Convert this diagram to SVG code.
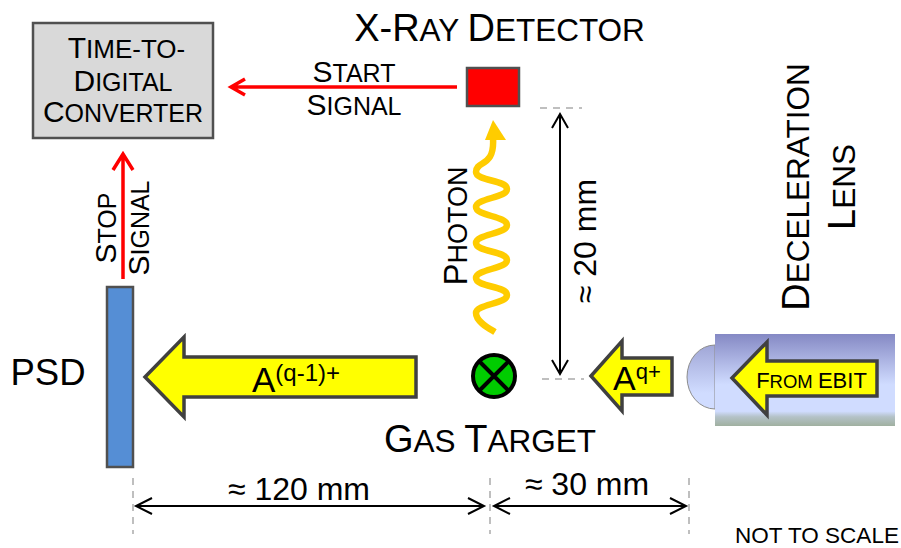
<svg xmlns="http://www.w3.org/2000/svg" width="901" height="548" viewBox="0 0 901 548">
<style>
text{font-family:"Liberation Sans",Arial,sans-serif;fill:#000}
.box{stroke:#505050;stroke-width:2.5}
.big{fill:#ffff00;stroke:#404040;stroke-width:3.5;stroke-linejoin:miter}
.dash{stroke:#aaa;stroke-width:1.5;stroke-dasharray:7 6;fill:none}
.dim{stroke:#000;stroke-width:2;fill:none}
.sig{stroke:#ff0000;stroke-width:3.5;fill:none}
</style>
<defs>
<linearGradient id="lens" x1="0" y1="0" x2="0" y2="1">
<stop offset="0" stop-color="#8589c4"/><stop offset="0.55" stop-color="#d0dcff"/><stop offset="0.84" stop-color="#d0dcff"/><stop offset="0.9" stop-color="#b4c2c8"/><stop offset="1" stop-color="#a0b0a0"/>
</linearGradient>
<linearGradient id="cap" x1="0" y1="0" x2="0" y2="1">
<stop offset="0" stop-color="#a0a6d6"/><stop offset="0.75" stop-color="#d0dcff"/><stop offset="1" stop-color="#d0dcff"/>
</linearGradient>
</defs>

<g id="connectors">
<path class="sig" d="M457 87H231M245 79L231 87L245 95"/>
<path class="sig" d="M123 279V154M113 170L123 154L133 170"/>
<path d="M495 332C490 329 476 322 476 313C476 304 507 304 507 295C507 286 476 287 476 278C476 269 507 269 507 260C507 251 476 252 476 243C476 234 507 234 507 225C507 216 476 216 476 207C476 198 507 198 507 189C507 180 476 181 476 172C476 160 495 168 493 138" fill="none" stroke="#ffcc00" stroke-width="6.5"/>
<polygon points="493,120 506,140 485,140" fill="#ffcc00"/>
<path class="dim" d="M560 114V374M552 128L560 114L568 128M552 360L560 374L568 360"/>
<path class="dim" d="M136 506H484M152 498L136 506L152 514M468 498L484 506L468 514"/>
<path class="dim" d="M494 506H686M510 498L494 506L510 514M670 498L686 506L670 514"/>
<path class="dash" d="M540 108H582M542 379H584M133 478V534M490 478V534M689 478V534"/>
</g>

<g id="tdc">
<rect class="box" x="33" y="23" width="180" height="115" fill="#d9d9d9"/>
<text x="126.500" y="58" font-size="26" text-anchor="middle"><tspan font-size="30">T</tspan>IME-TO-</text>
<text x="123" y="91" font-size="25" text-anchor="middle"><tspan font-size="30">D</tspan>IGITAL</text>
<text x="123" y="122" font-size="25" text-anchor="middle"><tspan font-size="30">C</tspan>ONVERTER</text>
</g>

<g id="detector">
<rect class="box" x="467" y="68" width="52" height="38" fill="#ff0000"/>
<text x="499.500" y="41" font-size="31.500" text-anchor="middle"><tspan font-size="38">X-R</tspan>AY <tspan font-size="38">D</tspan>ETECTOR</text>
</g>

<g id="start-label">
<text x="354" y="82" font-size="25" text-anchor="middle"><tspan font-size="30">S</tspan>TART</text>
<text x="354" y="115" font-size="25" text-anchor="middle"><tspan font-size="30">S</tspan>IGNAL</text>
</g>

<g id="stop-label">
<text transform="translate(116 228) rotate(-90)" font-size="25" text-anchor="middle"><tspan font-size="30">S</tspan>TOP</text>
<text transform="translate(149 228) rotate(-90)" font-size="25" text-anchor="middle"><tspan font-size="30">S</tspan>IGNAL</text>
</g>

<g id="photon-label">
<text transform="translate(467 226) rotate(-90)" font-size="27" text-anchor="middle"><tspan font-size="33">P</tspan>HOTON</text>
</g>

<g id="psd">
<rect class="box" x="107" y="287" width="26" height="180" fill="#558ed5"/>
<text x="48" y="385" font-size="36.500" text-anchor="middle">PSD</text>
</g>

<g id="ion-arrow-out">
<polygon class="big" points="145,377 184,337 184,357 416,357 416,397 184,397 184,417"/>
<text x="252" y="392" font-size="35">A<tspan font-size="24" dy="-11">(q-1)+</tspan></text>
</g>

<g id="gas-target">
<circle cx="494" cy="376" r="21" fill="#00cc00" stroke="#000" stroke-width="4"/>
<path d="M479 361L509 391M509 361L479 391" stroke="#000" stroke-width="4"/>
<text x="490" y="452" font-size="31.500" text-anchor="middle"><tspan font-size="38">G</tspan>AS <tspan font-size="38">T</tspan>ARGET</text>
</g>

<g id="ion-arrow-in">
<polygon class="big" points="591,376 622,341 622,358 672,358 672,395 622,395 622,411"/>
<text x="613" y="390" font-size="34">A<tspan font-size="22" dy="-11">q+</tspan></text>
</g>

<g id="lens-group">
<path d="M715 345A28 32 0 0 0 715 409Z" fill="url(#cap)" stroke="#8c8c8c" stroke-width="1"/>
<rect x="715" y="334" width="180" height="92" fill="url(#lens)"/>
<polygon class="big" points="732,378 767,342 767,361 877,361 877,396 767,396 767,415"/>
<text x="811.500" y="388" font-size="18.500" text-anchor="middle"><tspan font-size="22">F</tspan>ROM <tspan font-size="22">EBIT</tspan></text>
</g>

<g id="lens-label">
<text transform="translate(809 187) rotate(-90)" font-size="31.500" text-anchor="middle"><tspan font-size="38">D</tspan>ECELERATION</text>
<text transform="translate(855 187) rotate(-90)" font-size="31.500" text-anchor="middle"><tspan font-size="38">L</tspan>ENS</text>
</g>

<g id="dim-labels">
<text x="299" y="500" font-size="32" text-anchor="middle">≈ 120 mm</text>
<text x="587" y="495" font-size="32" text-anchor="middle">≈ 30 mm</text>
<text transform="translate(596 241) rotate(-90)" font-size="32" text-anchor="middle">≈ 20 mm</text>
<text x="817" y="543" font-size="22.500" text-anchor="middle">NOT TO SCALE</text>
</g>
</svg>
